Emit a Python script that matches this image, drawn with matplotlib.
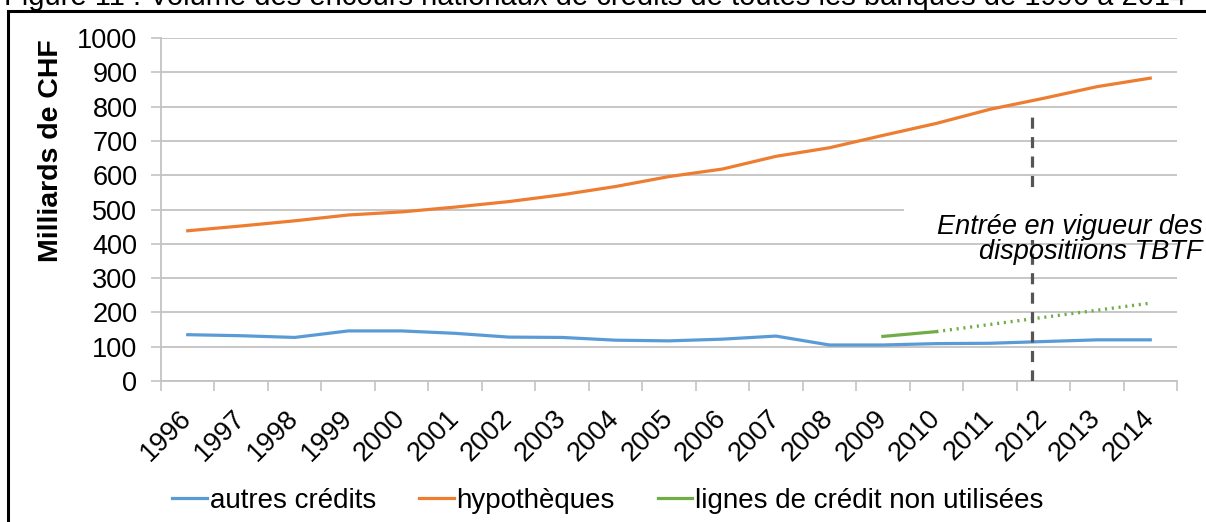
import matplotlib
matplotlib.use('Agg')
import matplotlib.pyplot as plt
from matplotlib.patches import Rectangle
from matplotlib.lines import Line2D

plt.rcParams['font.family'] = ['Liberation Sans', 'DejaVu Sans']
plt.rcParams['lines.scale_dashes'] = False

# data
years = list(range(1996, 2015))
autres = [135, 132, 127, 146, 146, 139, 128, 127, 119, 117, 122, 131, 105, 105, 109, 110, 115, 120, 120]
hypo = [438, 452, 467, 484, 493, 507, 523, 543, 567, 596, 618, 655, 680, 716, 751, 792, 824, 858, 883]
lignes_years = [2009, 2010]
lignes = [130, 144]
trend_years = [2010, 2014]
trend_vals = [144, 227]
tbtf_year = 2011.78
tbtf_top = 790
yticks = list(range(0, 1001, 100))

title = "Figure 11 : Volume des encours nationaux de crédits de toutes les banques de 1996 à 2014"
annot = "Entrée en vigueur des\ndispositiions TBTF"

W, H = 1206, 522
fig = plt.figure(figsize=(W / 100, H / 100), dpi=100)
ax = fig.add_axes([161 / W, 1 - 381 / H, (1177 - 161) / W, (381 - 38) / H])

grid_c = '#c3c3c3'
fs = 19.5

ax.set_xlim(years[0] - 0.5, years[-1] + 0.5)
ax.set_ylim(0, 1000)
ax.set_yticks(yticks)
ax.set_yticklabels([str(v) for v in yticks], fontsize=fs)
ax.tick_params(axis='y', length=7, width=1.2, color=grid_c, pad=10)
ax.yaxis.grid(True, color=grid_c, lw=1.3, zorder=0)
ax.set_axisbelow(True)

ax.set_xticks(years)
ax.set_xticklabels([str(y) for y in years], fontsize=fs, rotation=45,
                   ha='right', va='center', rotation_mode='anchor')
ax.tick_params(axis='x', length=0, pad=24)
ax.set_xticks([y - 0.5 for y in years] + [years[-1] + 0.5], minor=True)
ax.tick_params(axis='x', which='minor', length=7, width=1.2, color=grid_c)

for s in ['top', 'right']:
    ax.spines[s].set_visible(False)
for s in ['left', 'bottom']:
    ax.spines[s].set_color(grid_c)
    ax.spines[s].set_linewidth(1.3)

ax.set_ylabel('Milliards de CHF', fontsize=20.5, fontweight='bold')
ax.yaxis.set_label_coords(-(161 - 64) / (1177 - 161), (381 - 151) / (381 - 38))

lw = 2.3
ax.plot(years, autres, color='#5b9bd5', lw=lw, zorder=3)
ax.plot(years, hypo, color='#ed7d31', lw=lw, zorder=3)
ax.plot(lignes_years, lignes, color='#70ad47', lw=lw, zorder=3)
ax.plot(trend_years, trend_vals, color='#70ad47', lw=2.4, dashes=(1.5, 3.4), zorder=3)

ax.plot([tbtf_year, tbtf_year], [0, tbtf_top], color='#555555', lw=2.3,
        dashes=(8, 6), zorder=4)

# white box behind the note
ax.add_patch(Rectangle((2009.4, 410), 5.1, 138, facecolor='white',
                       edgecolor='none', zorder=5))
ax.text(2014.98, 413, annot, fontsize=fs, style='italic', ha='right', va='center',
        linespacing=0.95, zorder=6, clip_on=False)

handles = [Line2D([], [], color='#5b9bd5', lw=lw),
           Line2D([], [], color='#ed7d31', lw=lw),
           Line2D([], [], color='#70ad47', lw=lw)]
fig.legend(handles, ['autres crédits', 'hypothèques', 'lignes de crédit non utilisées'],
           loc='center left', bbox_to_anchor=(172 / W, 1 - 501 / H), ncol=3,
           frameon=False, fontsize=20, handlelength=1.25, handletextpad=0.1,
           columnspacing=1.55, borderpad=0, borderaxespad=0)

# border frame and clipped title
fig.patches.append(Rectangle((8 / W, -0.1), 1.2, 1 - 11 / H + 0.1, transform=fig.transFigure,
                             fill=False, edgecolor='black', lw=2.2))
fig.text(4 / W, 1 - 5 / H, title, fontsize=21, ha='left', va='baseline')

fig.savefig('out.png', dpi=100)
